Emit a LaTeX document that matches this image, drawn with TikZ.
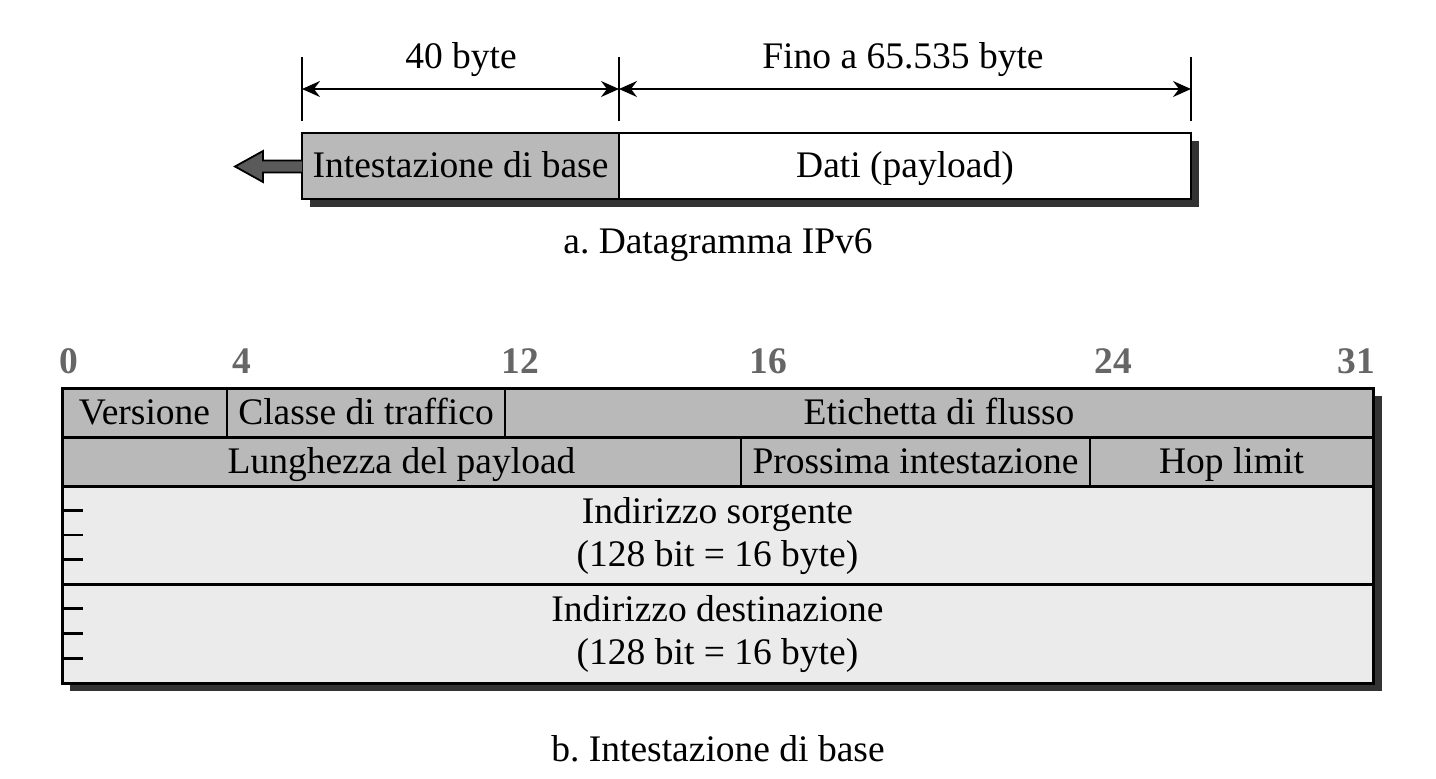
\documentclass[tikz,border=0pt]{standalone}
\usepackage{fontspec}
\setmainfont{Liberation Serif}
\usetikzlibrary{arrows.meta,fit,calc}

\definecolor{hdrgray}{HTML}{B9B9B9}
\definecolor{addrgray}{HTML}{EBEBEB}
\definecolor{shadowgray}{HTML}{333333}
\definecolor{arrowgray}{HTML}{5A5A5A}
\definecolor{bitgray}{HTML}{666666}

\begin{document}
\begin{tikzpicture}[x=0.5pt,y=-0.5pt,
  every node/.style={font=\fontsize{18.75}{21.5}\selectfont, inner sep=0pt, outer sep=0pt},
  txt/.style={anchor=base},
  celltxt/.style={anchor=base, yshift=-6pt},
  bitnum/.style={anchor=base, text=bitgray, font=\fontsize{18.75}{21.5}\selectfont\bfseries},
  field/.style={draw=black, line width=1pt, inner sep=0pt},
  hdrfield/.style={field, fill=hdrgray},
  addrfield/.style={field, fill=addrgray},
  shadowfill/.style={fill=shadowgray},
  border/.style={draw=black, line width=1.5pt},
  dimline/.style={line width=1pt, {Stealth[length=9pt,width=8pt,inset=3pt]}-{Stealth[length=9pt,width=8pt,inset=3pt]}},
  extline/.style={line width=1pt},
  tickmark/.style={line width=1.3pt},
  blockarrow/.style={fill=arrowgray, draw=black, line width=0.9pt, line join=miter}
]
\useasboundingbox (0,0) rectangle (1436,778);

% ---------- a. IPv6 datagram ----------
\fill[shadowfill] (310,141) rectangle (1199,207);
\node[hdrfield, line width=1.3pt, fit={(302,133) (619,199)}] (hdr) {};
\node[field, fill=white, line width=1.3pt, fit={(619,133) (1191,199)}] (data) {};
\node[txt, yshift=-5.5pt] (thdr) at (hdr.center) {Intestazione di base};
\node[txt, yshift=-5.5pt] (tdata) at (data.center) {Dati (payload)};

% arrow leaving the base header
\filldraw[blockarrow] (302,160.5) -- (263,160.5) -- (263,151) -- (235,166.5)
  -- (263,182) -- (263,172.5) -- (302,172.5);

% size markers
\draw[extline] (hdr.north west) ++(0,-76) -- ++(0,64);
\draw[extline] (data.north west) ++(0,-76) -- ++(0,64);
\draw[extline] (data.north east) ++(0,-76) -- ++(0,64);
\coordinate (d0) at (302,89);
\coordinate (d1) at (619,89);
\coordinate (d2) at (1191,89);
\draw[dimline] (d0) -- (d1);
\draw[dimline] (d1) -- (d2);
\node[txt] (l40) at (461,68) {40 byte};
\node[txt] (lmax) at (903,68) {Fino a 65.535 byte};

\node[txt] (capa) at (718,253) {a.\ Datagramma IPv6};

% ---------- b. base header ----------
\node[bitnum] (b0) at (69,373) {0};
\node[bitnum] (b4) at (242,373) {4};
\node[bitnum] (b12) at (520,373) {12};
\node[bitnum] (b16) at (768,373) {16};
\node[bitnum] (b24) at (1113,373) {24};
\node[bitnum, anchor=base east] (b31) at (1375,373) {31};

\fill[shadowfill] (70,396) rectangle (1382,691);

\node[hdrfield, fit={(62,388) (227,437)}] (ver) {};
\node[hdrfield, fit={(227,388) (505,437)}] (cls) {};
\node[hdrfield, fit={(505,388) (1373,437)}] (flow) {};
\node[hdrfield, fit={(62,437) (741,486)}] (len) {};
\node[hdrfield, fit={(741,437) (1090,486)}] (nxt) {};
\node[hdrfield, fit={(1090,437) (1373,486)}] (hop) {};
\node[addrfield, fit={(62,486) (1373,584)}] (src) {};
\node[addrfield, fit={(62,584) (1373,683)}] (dst) {};

\node[celltxt] (tver) at (ver.center) {Versione};
\node[celltxt] (tcls) at (cls.center) {Classe di traffico};
\node[celltxt] (tflow) at (flow.center) {Etichetta di flusso};
\node[celltxt] (tlen) at (len.center) {Lunghezza del payload};
\node[celltxt] (tnxt) at (nxt.center) {Prossima intestazione};
\node[celltxt] (thop) at (hop.center) {Hop limit};

\node[txt, yshift=6pt] (tsrc) at (src.center) {Indirizzo sorgente};
\node[txt, yshift=-15.5pt] (tsrcb) at (src.center) {(128 bit = 16 byte)};
\node[txt, yshift=6pt] (tdst) at (dst.center) {Indirizzo destinazione};
\node[txt, yshift=-15.5pt] (tdstb) at (dst.center) {(128 bit = 16 byte)};

% row separators and outer frame
\draw[border] (len.north west) -- (flow.south east);
\draw[border] (src.north west) -- (src.north east);
\draw[border] (dst.north west) -- (dst.north east);
\draw[border] (ver.north west) rectangle (dst.south east);

% quarter marks of the 128-bit address fields
\foreach \f in {0.25,0.5,0.75} {
  \draw[tickmark] ($(src.north west)!\f!(src.south west)$) -- ++(21,0);
  \draw[tickmark] ($(dst.north west)!\f!(dst.south west)$) -- ++(21,0);
}

\node[txt] (capb) at (718,761) {b.\ Intestazione di base};
\end{tikzpicture}
\end{document}
